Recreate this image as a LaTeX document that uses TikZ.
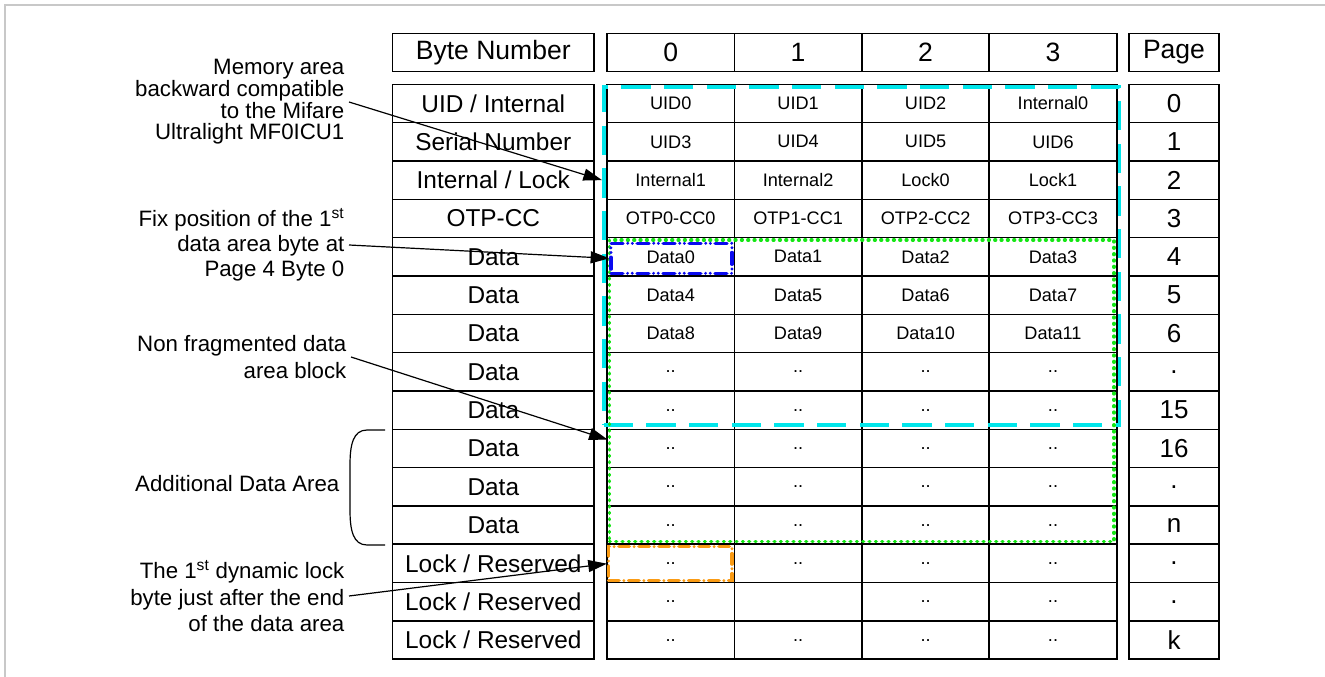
\documentclass[tikz,border=0pt]{standalone}
\usepackage{fontspec}
\setmainfont{Liberation Sans}
\usetikzlibrary{arrows.meta,calc}
\definecolor{mfulcyan}{RGB}{0,230,235}
\definecolor{datagreen}{RGB}{20,230,20}
\definecolor{firstblue}{RGB}{10,10,240}
\definecolor{lockorange}{RGB}{250,155,20}
\definecolor{framegray}{RGB}{200,200,200}

\begin{document}
\begin{tikzpicture}[x=0.75pt,y=-0.75pt,>={Triangle[length=14pt,width=9pt]},line width=0.9pt]
\tikzstyle{cellbox}=[draw,line width=1.2pt,inner sep=0pt,minimum height=28.75pt]
\tikzstyle{namecell}=[cellbox,minimum width=151pt,font=\fontsize{18.3}{20}\selectfont]
\tikzstyle{headcell}=[cellbox,font=\fontsize{19.9}{22}\selectfont]
\tikzstyle{bytecell}=[cellbox,minimum width=95.6pt,font=\fontsize{13.6}{16}\selectfont]
\tikzstyle{pagecell}=[cellbox,minimum width=67.5pt,font=\fontsize{19.5}{22}\selectfont]
\tikzstyle{note}=[anchor=east,align=right,inner sep=3pt,font=\fontsize{16.7}{20}\selectfont]
\tikzstyle{area}=[inner sep=0pt,line width=2.4pt]

\useasboundingbox (0,0) rectangle (1325,677);
\draw[framegray,line width=1.1pt] (5,677) -- (5,5) -- (1325,5);

% header row
\node[headcell,minimum width=151pt] (hdr) at (493.3,52.5) {Byte Number};
\foreach \j/\x in {0/670.7,1/798.1,2/925.6,3/1053}
  \node[headcell,minimum width=95.6pt] (hdr-\j) at (\x,52.5) {\j};
\node[headcell,minimum width=67.5pt] (hdr-page) at (1174,52.5) {Page};

% memory rows
\foreach \lbl/\ba/\bb/\bc/\bd/\pg [count=\i from 0] in {
  {UID / Internal}/UID0/UID1/UID2/Internal0/0,
  Serial Number/UID3/UID4/UID5/UID6/1,
  {Internal / Lock}/Internal1/Internal2/Lock0/Lock1/2,
  OTP-CC/OTP0-CC0/OTP1-CC1/OTP2-CC2/OTP3-CC3/3,
  Data/Data0/Data1/Data2/Data3/4,
  Data/Data4/Data5/Data6/Data7/5,
  Data/Data8/Data9/Data10/Data11/6,
  Data/../../../../.,
  Data/../../../../15,
  Data/../../../../16,
  Data/../../../../.,
  Data/../../../../n,
  {Lock / Reserved}/../../../../.,
  {Lock / Reserved}/..//../../.,
  {Lock / Reserved}/../../../../k}
{
  \node[namecell] (name-\i) at (493.3,103.5+38.33*\i) {\lbl};
  \node[bytecell] (b-\i-0) at (670.7,103.5+38.33*\i) {\ba};
  \node[bytecell] (b-\i-1) at (798.1,103.5+38.33*\i) {\bb};
  \node[bytecell] (b-\i-2) at (925.6,103.5+38.33*\i) {\bc};
  \node[bytecell] (b-\i-3) at (1053,103.5+38.33*\i) {\bd};
  \node[pagecell] (pg-\i) at (1174,103.5+38.33*\i) {\pg};
}

% marked areas
\node[area,draw=mfulcyan,line width=2.7pt,dash pattern=on 22pt off 10pt,minimum width=386.9pt,minimum height=253.3pt] (mful) at (861.75,256.15) {};
\node[area,draw=datagreen,line width=2.6pt,line cap=round,dash pattern=on 0.6pt off 4.15pt,minimum width=378.4pt,minimum height=226.3pt] (nfdata) at (861.75,390.85) {};
\node[area,draw=firstblue,line cap=round,dash pattern=on 9pt off 3.5pt on 0pt off 3.5pt on 0pt off 3.5pt,minimum width=90.8pt,minimum height=22.5pt] (first) at (671.45,258.3) {};
\node[area,draw=lockorange,line cap=round,dash pattern=on 8pt off 3.5pt on 0pt off 3.5pt,minimum width=92.6pt,minimum height=25.5pt] (dynlk) at (670.25,563.7) {};

% notes
\node[note,font=\fontsize{16.7}{16.3}\selectfont] (memo) at (349,102) {Memory area\\backward compatible\\to the Mifare\\Ultralight MF0ICU1};
\node[note,font=\fontsize{16.7}{18.75}\selectfont] (fixpos) at (349,245) {Fix position of the 1\textsuperscript{st}\\data area byte at\\Page 4 Byte 0};
\node[note] (nonfrag) at (351,357) {Non fragmented data\\area block};
\node[note] (extra) at (344,484) {Additional Data Area};
\node[note] (dynlock) at (349,596) {The 1\textsuperscript{st} dynamic lock\\byte just after the end\\of the data area};

\draw (385,430) -- (367,430) .. controls (353,430) and (350,445) .. (350,465) -- (350,510) .. controls (350,530) and (353,545) .. (367,545) -- (385,545);

\draw[->] (memo.east) -- (mful.west |- name-2);
\draw[->] (fixpos.east) -- (first.west);
\draw[->] (nonfrag.east) -- ($(nfdata.north west)!0.66!(nfdata.south west)$);
\draw[->] (dynlock.east) -- (dynlk.west);
\end{tikzpicture}
\end{document}
